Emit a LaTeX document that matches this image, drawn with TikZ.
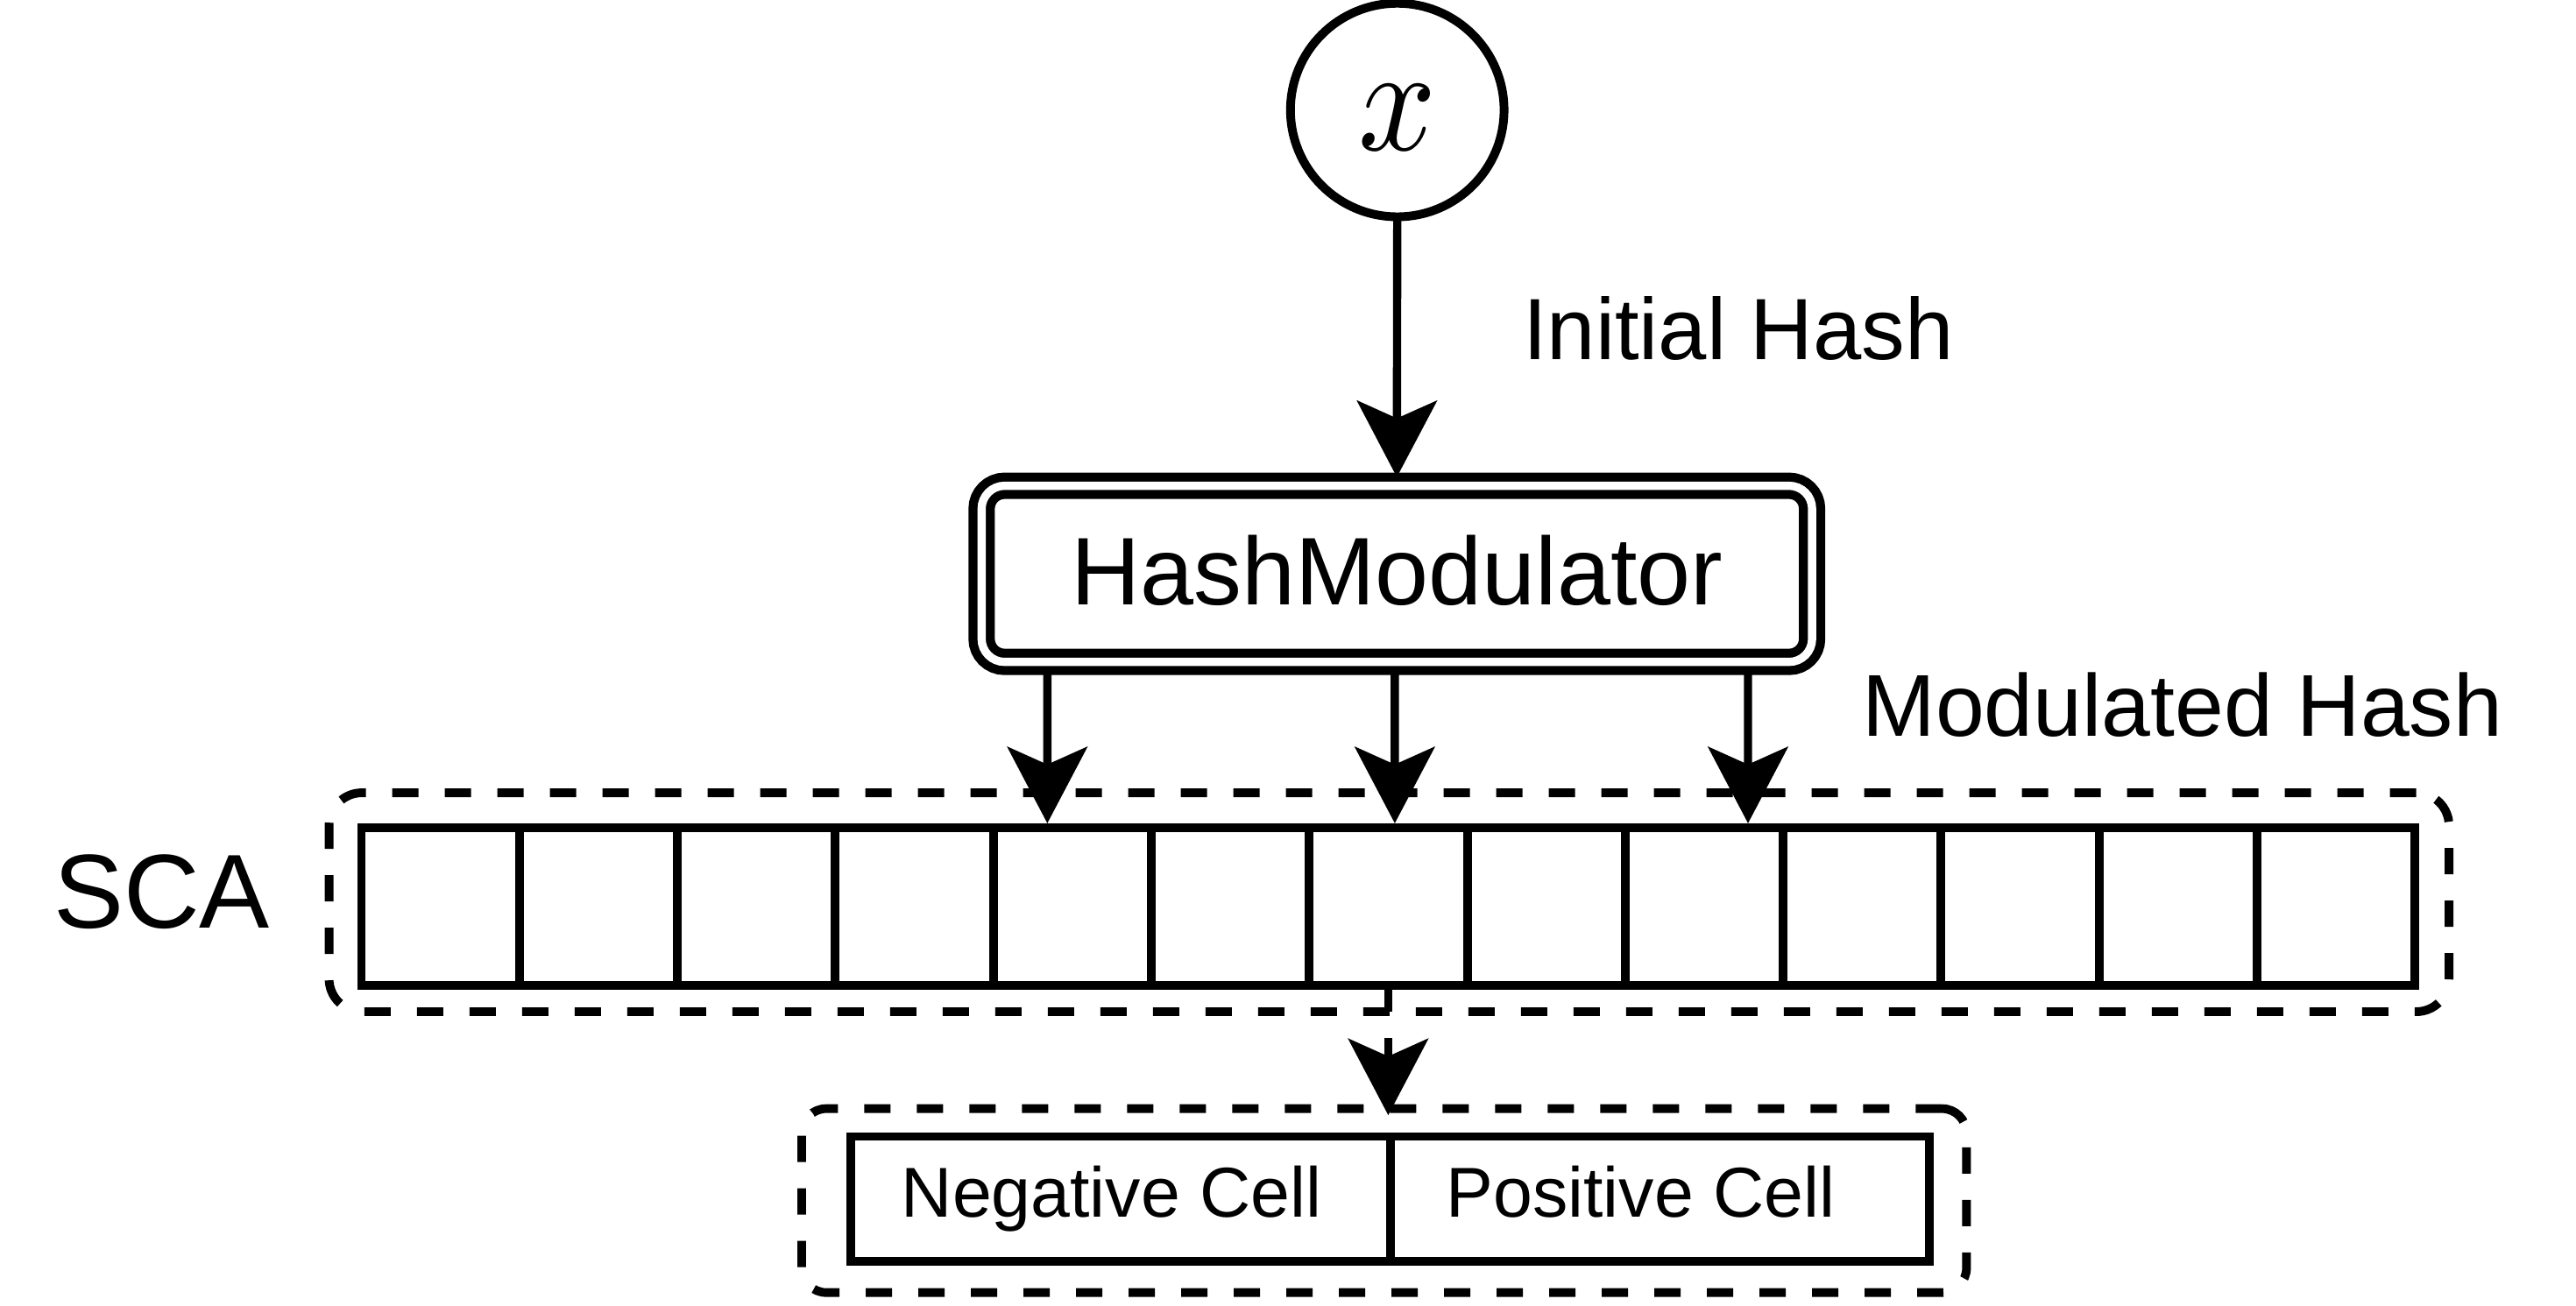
\documentclass[tikz,border=0pt]{standalone}
\usepackage{fontspec}
\setmainfont{Liberation Sans}
\usetikzlibrary{arrows.meta}
\newcommand\myfs[1]{\fontsize{#1}{#1}\selectfont}
\begin{document}
\begin{tikzpicture}[x=1pt,y=-1pt,
  lw/.style={line width=5.3pt},
  arr/.style={line width=5pt,-{Stealth[length=46.5pt,width=48.5pt,inset=10.7pt]}},
  cellbox/.style={draw,lw,minimum width=96.154pt,minimum height=96pt,inner sep=0pt,outer sep=0pt},
  halfbox/.style={draw,lw,minimum height=76pt,inner sep=0pt,outer sep=0pt},
  dbox/.style={draw,lw,dash pattern=on 16pt off 16pt,inner sep=0pt,outer sep=0pt},
  txt/.style={inner sep=0pt,outer sep=0pt,anchor=base west}
]
\useasboundingbox (0,0) rectangle (1568,795);

% input
\node[circle,draw,lw,minimum size=130pt,inner sep=0pt,outer sep=0pt,
      text height=49pt,text depth=0pt] (x) at (850.5,67) {\scalebox{8.3}[9.2]{$x$}};

% hash modulator
\node[draw,line width=5.5pt,double,double distance=5pt,rounded corners=14pt,
      minimum width=505.5pt,minimum height=107.25pt,inner sep=0pt,outer sep=0pt,
      text height=37.2pt,text depth=0pt,font=\myfs{58.5}] (hm) at (850.25,349.4) {HashModulator};

% SCA
\node[dbox,rounded corners=20pt,minimum width=1290.4pt,minimum height=133.3pt] (scabox) at (845.5,549.35) {};
\foreach \i in {1,...,13}
  \node[cellbox] (c\i) at ({220+96.154*(\i-0.5)},552) {};

% bottom pair
\node[dbox,rounded corners=15pt,minimum width=709pt,minimum height=112pt] (botbox) at (842.5,731) {};
\node[halfbox,minimum width=328.5pt] (neg) at (682.25,730) {};
\node[halfbox,minimum width=328pt] (pos) at (1010.5,730) {};

% labels
\node[txt,font=\myfs{53}] (ih) at (927,218.7) {Initial Hash};
\node[txt,font=\myfs{53.5}] (mh) at (1133.6,448) {Modulated Hash};
\node[txt,font=\myfs{64}] (sca) at (32.7,565.3) {SCA};
\node[txt,font=\myfs{43}] (negt) at (548.7,741.3) {Negative Cell};
\node[txt,font=\myfs{43}] (post) at (880.3,741.3) {Positive Cell};

% connectors
\draw[arr] (x.south) -- ([yshift=5.25pt]hm.north);
\draw[arr] ([xshift=-212.75pt,yshift=-5pt]hm.south) -- ([xshift=-15.2pt,yshift=2.7pt]c5.north);
\draw[arr] ([xshift=-1.25pt,yshift=-5pt]hm.south) -- ([xshift=4pt,yshift=2.7pt]c7.north);
\draw[arr] ([xshift=213.75pt,yshift=-5pt]hm.south) -- ([xshift=26.7pt,yshift=2.7pt]c9.north);
\draw[arr,dash pattern=on 16pt off 16pt,shorten >=-4pt] (c7.south) -- (c7.south |- botbox.north);
\end{tikzpicture}
\end{document}
